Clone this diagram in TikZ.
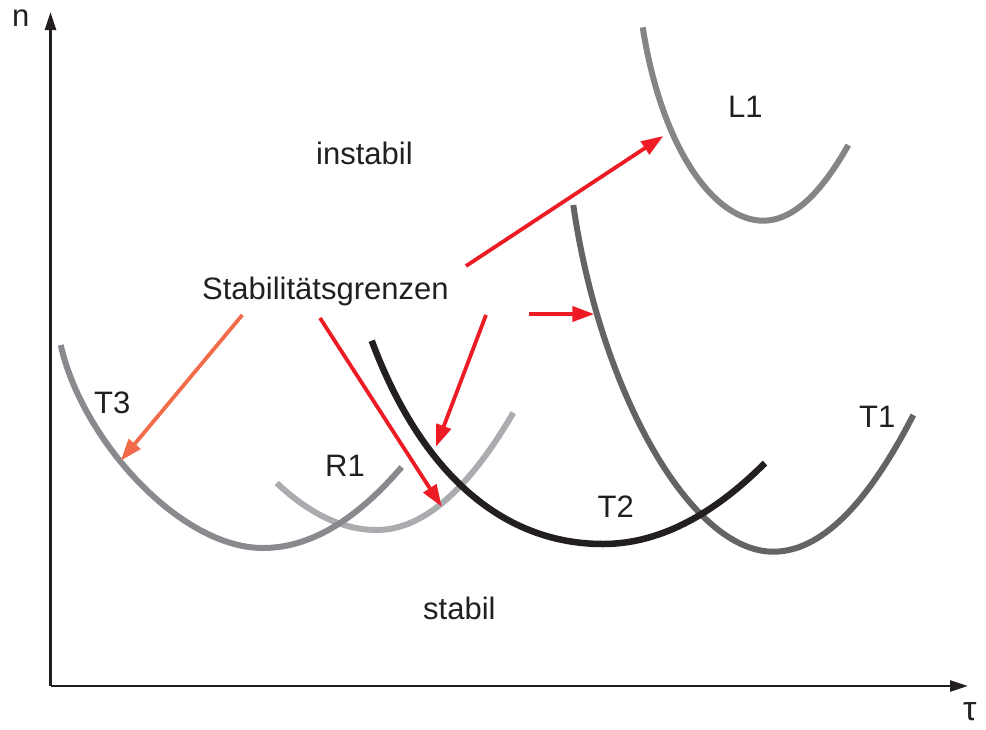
\documentclass[tikz,border=0pt]{standalone}
\usepackage{fontspec}
\setmainfont{Liberation Sans}
\usetikzlibrary{arrows.meta}
\definecolor{txt}{HTML}{231F20}
\definecolor{arrred}{HTML}{ED1C24}
\definecolor{arrorange}{HTML}{F26B4B}
\definecolor{cTthree}{HTML}{898A8E}
\definecolor{cRone}{HTML}{ABACAF}
\definecolor{cTtwo}{HTML}{231F20}
\definecolor{cTone}{HTML}{636466}
\definecolor{cLone}{HTML}{848587}
\begin{document}
\begin{tikzpicture}[x=1pt,y=-1pt,
  lbl/.style={font=\fontsize{31}{37}\selectfont, text=txt, inner sep=0pt, anchor=base west},
  axisline/.style={line width=2.6pt, draw=txt, -{Triangle[length=18pt,width=11pt]}},
  curve/.style={line width=6pt},
  redarrow/.style={line width=3.8pt, draw=arrred, -{Triangle[length=22pt,width=15pt]}},
  orangearrow/.style={line width=3.8pt, draw=arrorange, -{Triangle[length=22pt,width=15pt]}}
]
\useasboundingbox (0,0) rectangle (986,729);

% axes
\coordinate (O) at (50.5,686);
\coordinate (ytip) at (50.5,12);
\coordinate (xtip) at (968,686);
\draw[axisline] (O) -- (ytip);
\draw[axisline] (O) -- (xtip);
\node[lbl] (n) at (12,26) {n};
\node[lbl, font=\fontsize{34}{40}\selectfont] (tau) at (963,720) {τ};

% curves
\draw[curve, draw=cRone] (276.7,483) .. controls (310,514.3) and (343.3,530) .. (376.7,530)
   .. controls (422.2,530) and (467.8,490.9) .. (513.3,412.7);
\draw[curve, draw=cTthree] (60.7,345) .. controls (82,440) and (180,548) .. (263,548)
   .. controls (309.2,548) and (355.4,521) .. (401.7,467);
\draw[curve, draw=cTone] (573.3,205) .. controls (600,390) and (690,551.7) .. (773.3,551.7)
   .. controls (820,551.7) and (866.6,506.1) .. (913.3,415);
\draw[curve, draw=cTtwo, line width=6.5pt] (371.7,340.7) .. controls (420,470) and (500,544) .. (603,544)
   .. controls (657,544) and (711,517) .. (765,463);
\draw[curve, draw=cLone] (642.7,27.3) .. controls (662,150) and (715,220.7) .. (763.3,220.7)
   .. controls (791.6,220.7) and (820,195.5) .. (848.3,145);

% labels
\node[lbl] (instabil) at (316,164) {instabil};
\node[lbl] (grenzen) at (202,299) {Stabilitätsgrenzen};
\node[lbl] (stabil) at (423,619) {stabil};
\node[lbl] (L1) at (728,117.3) {L1};
\node[lbl] (T3) at (94,413.3) {T3};
\node[lbl] (R1) at (325,476) {R1};
\node[lbl] (T2) at (597.5,517.3) {T2};
\node[lbl] (T1) at (859,427.3) {T1};

% arrows
\coordinate (sL) at (466,266);   \coordinate (eL) at (663.3,136);
\coordinate (sTa) at (529.3,314); \coordinate (eTa) at (594.3,314);
\coordinate (sTb) at (486,315);  \coordinate (eTb) at (436,446.7);
\coordinate (sR) at (320,318);   \coordinate (eR) at (441.7,506.7);
\coordinate (sTc) at (242.3,315); \coordinate (eTc) at (120.7,460.7);
\draw[redarrow] (sL) -- (eL);
\draw[redarrow] (sTa) -- (eTa);
\draw[redarrow] (sTb) -- (eTb);
\draw[redarrow] (sR) -- (eR);
\draw[orangearrow] (sTc) -- (eTc);
\end{tikzpicture}
\end{document}
